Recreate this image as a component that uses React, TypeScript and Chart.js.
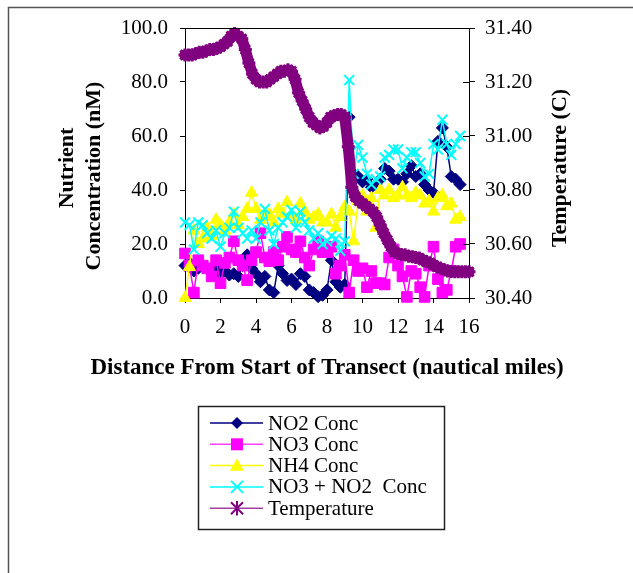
import React, { useEffect, useRef } from 'react';
import { Chart, registerables } from 'chart.js';

Chart.register(...registerables);

// ---------- data ----------
const distance = [0, 0.25, 0.5, 0.75, 1, 1.25, 1.5, 1.75, 2, 2.25, 2.5, 2.75, 3, 3.25, 3.5, 3.75, 4, 4.25, 4.5, 4.75, 5, 5.25, 5.5, 5.75, 6, 6.25, 6.5, 6.75, 7, 7.25, 7.5, 7.75, 8, 8.25, 8.5, 8.75, 9, 9.25, 9.5, 9.75, 10, 10.25, 10.5, 10.75, 11, 11.25, 11.5, 11.75, 12, 12.25, 12.5, 12.75, 13, 13.25, 13.5, 13.75, 14, 14.25, 14.5, 14.75, 15, 15.25, 15.5];

const no2Conc = [12, 13, 10, 11, 12, 11, 10, 12, 9, 10, 8.5, 9, 8, 12, 16, 11, 9, 6, 8, 3, 2, 12, 9, 6.5, 7, 5, 9, 8, 3, 2, 0.5, 1, 3, 14, 6, 4, 5, 67, 46, 45, 43, 44, 41, 42, 44, 48, 47, 44, 44, 43, 46, 49, 45, 46, 42, 40, 39, 58, 63, 56, 45, 44, 42];

const no3Conc = [16.5, 12, 2, 14, 12, 11, 8, 14, 5.5, 13, 15, 21, 14, 12, 6.6, 14, 17, 24, 15, 13.6, 17, 14, 19, 22.6, 18, 17, 21, 15, 12, 18, 21, 17, 17, 19, 9, 12, 16, 2, 14, 10, 11, 4, 10, 5.5, 5.5, 5, 15, 18, 12, 8, 0.4, 10, 9, 4, 0.4, 12, 19, 7, 2, 3, 10, 19, 20];

const nh4Conc = [0, 11.5, 25, 20, 22, 26, 23, 29, 27, 25, 28, 31, 27, 30, 33, 39, 33, 29, 30, 31, 28, 33, 31, 35.5, 31, 29, 35, 32, 29, 30, 31, 28, 28, 31, 26, 30, 33.7, 32, 21, 36, 38, 32, 37, 26, 40, 38, 40, 37, 38, 41, 38, 37, 39, 38, 35, 36, 32, 37, 38, 34, 35, 29, 30];

const no3no2Conc = [28, 27, 18, 28, 27, 24, 22, 25, 19, 24, 26, 32, 26, 24, 22, 25, 22, 28, 33, 25, 20, 26, 28, 30, 32.6, 26, 32, 28, 25, 22, 24, 20, 21, 23, 22, 17.5, 21, 80.7, 46, 56.7, 52, 46, 42, 44, 45, 52, 53, 55, 55, 48, 52, 54, 54, 50, 45, 46, 57, 55, 66, 57, 53, 57, 60];

const tempDistance = [0, 0.2, 0.4, 0.6, 0.8, 1, 1.2, 1.4, 1.6, 1.8, 2, 2.2, 2.4, 2.6, 2.8, 3, 3.2, 3.4, 3.6, 3.8, 4, 4.2, 4.4, 4.6, 4.8, 5, 5.2, 5.4, 5.6, 5.8, 6, 6.2, 6.4, 6.6, 6.8, 7, 7.2, 7.4, 7.6, 7.8, 8, 8.2, 8.4, 8.6, 8.8, 9, 9.2, 9.4, 9.6, 9.8, 10, 10.2, 10.4, 10.6, 10.8, 11, 11.2, 11.4, 11.6, 11.8, 12, 12.2, 12.4, 12.6, 12.8, 13, 13.2, 13.4, 13.6, 13.8, 14, 14.2, 14.4, 14.6, 14.8, 15, 15.2, 15.4, 15.6, 15.8, 16];

const temperature = [31.30, 31.30, 31.30, 31.305, 31.31, 31.31, 31.315, 31.32, 31.32, 31.325,
  31.33, 31.34, 31.35, 31.37, 31.38, 31.37, 31.36, 31.32, 31.27, 31.23,
  31.21, 31.20, 31.20, 31.20, 31.21, 31.22, 31.23, 31.24, 31.24, 31.245,
  31.24, 31.21, 31.16, 31.13, 31.10, 31.07, 31.05, 31.04, 31.03, 31.035,
  31.05, 31.07, 31.075, 31.08, 31.08, 31.07, 30.96, 30.81, 30.775, 30.76,
  30.75, 30.74, 30.73, 30.72, 30.70, 30.67, 30.64, 30.615, 30.59, 30.57,
  30.565, 30.56, 30.56, 30.555, 30.553, 30.55, 30.548, 30.54, 30.535, 30.53,
  30.522, 30.515, 30.51, 30.505, 30.50, 30.498, 30.497, 30.497, 30.497, 30.497,
  30.497];

const xTicks = [0, 2, 4, 6, 8, 10, 12, 14, 16];
const nutrientTicks = [0, 20, 40, 60, 80, 100];
const tempTicks = [30.4, 30.6, 30.8, 31.0, 31.2, 31.4];

const xTitle = 'Distance From Start of Transect (nautical miles)';
const yTitleLines = ['Nutrient', 'Concentration (nM)'];
const y1Title = 'Temperature (C)';

const FONT = '"Liberation Serif", "Times New Roman", serif';

type Marker = 'rectRot' | 'rect' | 'triangle' | 'crossRot' | 'star';

function drawMarker(ctx: CanvasRenderingContext2D, kind: Marker, x: number, y: number, r: number, color: string) {
  ctx.save();
  ctx.fillStyle = color;
  ctx.strokeStyle = color;
  ctx.beginPath();
  if (kind === 'rectRot') {
    ctx.moveTo(x, y - r); ctx.lineTo(x + r, y); ctx.lineTo(x, y + r); ctx.lineTo(x - r, y); ctx.closePath(); ctx.fill();
  } else if (kind === 'rect') {
    ctx.rect(x - r, y - r, 2 * r, 2 * r); ctx.fill();
  } else if (kind === 'triangle') {
    ctx.moveTo(x, y - r); ctx.lineTo(x + r, y + r * 0.75); ctx.lineTo(x - r, y + r * 0.75); ctx.closePath(); ctx.fill();
  } else if (kind === 'crossRot') {
    ctx.lineWidth = 2;
    ctx.moveTo(x - r, y - r); ctx.lineTo(x + r, y + r); ctx.moveTo(x + r, y - r); ctx.lineTo(x - r, y + r); ctx.stroke();
  } else {
    ctx.lineWidth = 2;
    ctx.moveTo(x - r, y - r); ctx.lineTo(x + r, y + r); ctx.moveTo(x + r, y - r); ctx.lineTo(x - r, y + r);
    ctx.moveTo(x, y - r * 1.2); ctx.lineTo(x, y + r * 1.2); ctx.stroke();
  }
  ctx.restore();
}

const legendItems: { label: string; color: string; line: string; marker: Marker; r: number }[] = [
  { label: 'NO2 Conc', color: '#000080', line: '#000080', marker: 'rectRot', r: 6 },
  { label: 'NO3 Conc', color: '#FF00FF', line: '#FF40FF', marker: 'rect', r: 6 },
  { label: 'NH4 Conc', color: '#FFFF00', line: '#FFFF00', marker: 'triangle', r: 7 },
  { label: 'NO3 + NO2  Conc', color: '#00FFFF', line: '#00FFFF', marker: 'crossRot', r: 6 },
  { label: 'Temperature', color: '#800080', line: '#A040A0', marker: 'star', r: 6 },
];

const decorPlugin = {
  id: 'decor',
  beforeDraw(chart: any) {
    const ctx = chart.ctx as CanvasRenderingContext2D;
    ctx.save();
    ctx.fillStyle = '#fff';
    ctx.fillRect(0, 0, chart.width, chart.height);
    ctx.strokeStyle = '#555';
    ctx.lineWidth = 1.5;
    ctx.strokeRect(8.5, 7.5, 800, 800);
    ctx.restore();
  },
  afterDraw(chart: any) {
    const ctx = chart.ctx as CanvasRenderingContext2D;
    const a = chart.chartArea;
    ctx.save();
    ctx.strokeStyle = '#000';
    ctx.lineWidth = 1;
    ctx.beginPath();
    ctx.moveTo(a.left, a.top + 0.5);
    ctx.lineTo(a.right, a.top + 0.5);
    // right-axis ticks crossing into the plot
    const y1 = chart.scales.y1;
    tempTicks.forEach((v) => {
      const py = Math.round(y1.getPixelForValue(v)) + 0.5;
      ctx.moveTo(a.right - 6, py);
      ctx.lineTo(a.right, py);
    });
    ctx.stroke();

    ctx.fillStyle = '#000';
    ctx.textAlign = 'center';
    ctx.textBaseline = 'middle';
    ctx.font = `bold 23px ${FONT}`;
    ctx.fillText(xTitle, 327, 368);

    ctx.font = `bold 22px ${FONT}`;
    const ys = [[67, 168], [94, 176]];
    yTitleLines.forEach((t, i) => {
      ctx.save();
      ctx.translate(ys[i][0], ys[i][1]);
      ctx.rotate(-Math.PI / 2);
      ctx.fillText(t, 0, 0);
      ctx.restore();
    });
    ctx.save();
    ctx.translate(560, 168);
    ctx.rotate(-Math.PI / 2);
    ctx.fillText(y1Title, 0, 0);
    ctx.restore();

    // legend
    ctx.strokeStyle = '#222';
    ctx.lineWidth = 1.5;
    ctx.strokeRect(198.5, 406.5, 246, 123);
    ctx.font = `21px ${FONT}`;
    ctx.textAlign = 'left';
    legendItems.forEach((it, i) => {
      const y = 423 + i * 21.3;
      ctx.strokeStyle = it.line;
      ctx.lineWidth = 1.5;
      ctx.beginPath();
      ctx.moveTo(210, y);
      ctx.lineTo(263, y);
      ctx.stroke();
      drawMarker(ctx, it.marker, 237, y, it.r, it.color);
      ctx.fillStyle = '#000';
      ctx.fillText(it.label, 268, y + 1);
    });
    ctx.restore();
  },
};

function pts(xs: number[], ys: number[]) {
  return xs.map((x, i) => ({ x, y: ys[i] }));
}

export default function App() {
  const ref = useRef<HTMLCanvasElement | null>(null);

  useEffect(() => {
    document.body.style.margin = '0';
    const canvas = ref.current!;
    const tickFont = { family: FONT, size: 21 };
    const grid = { display: true, drawOnChartArea: false, drawTicks: true, tickLength: 5, color: '#000', lineWidth: 1 };
    const chart = new Chart(canvas, {
      type: 'line',
      data: {
        datasets: [
          {
            label: 'NO2 Conc', data: pts(distance, no2Conc), yAxisID: 'y', order: 5,
            borderColor: '#000080', borderWidth: 1.5, pointStyle: 'rectRot', pointRadius: 6,
            pointBackgroundColor: '#000080', pointBorderColor: '#000080', pointBorderWidth: 1, clip: false,
          },
          {
            label: 'NO3 Conc', data: pts(distance, no3Conc), yAxisID: 'y', order: 4,
            borderColor: '#FF00FF', borderWidth: 1.5, pointStyle: 'rect', pointRadius: 7.5,
            pointBackgroundColor: '#FF00FF', pointBorderColor: '#FF00FF', pointBorderWidth: 1, clip: false,
          },
          {
            label: 'NH4 Conc', data: pts(distance, nh4Conc), yAxisID: 'y', order: 3,
            borderColor: '#FFFF00', borderWidth: 1.5, pointStyle: 'triangle', pointRadius: 7,
            pointBackgroundColor: '#FFFF00', pointBorderColor: '#FFFF00', pointBorderWidth: 1, clip: false,
          },
          {
            label: 'NO3 + NO2  Conc', data: pts(distance, no3no2Conc), yAxisID: 'y', order: 2,
            borderColor: '#00FFFF', borderWidth: 1.5, pointStyle: 'crossRot', pointRadius: 7,
            pointBackgroundColor: '#00FFFF', pointBorderColor: '#00FFFF', pointBorderWidth: 2, clip: false,
          },
          {
            label: 'Temperature', data: pts(tempDistance, temperature), yAxisID: 'y1', order: 1,
            borderColor: '#800080', borderWidth: 11, pointStyle: 'star', pointRadius: 6.5,
            pointBackgroundColor: '#800080', pointBorderColor: '#800080', pointBorderWidth: 3, clip: false,
          },
        ] as any,
      },
      options: {
        animation: false,
        responsive: false,
        devicePixelRatio: 1,
        layout: { padding: { left: 0, right: 0, top: 28, bottom: 0 } },
        plugins: { legend: { display: false }, tooltip: { enabled: false }, title: { display: false } },
        elements: { line: { tension: 0, borderJoinStyle: 'round', borderCapStyle: 'round' } },
        scales: {
          x: {
            type: 'linear', min: 0, max: 16,
            afterBuildTicks: (s: any) => { s.ticks = xTicks.map((v) => ({ value: v })); },
            afterFit: (s: any) => { s.height = 573 - 298; },
            ticks: { font: tickFont, color: '#000', padding: 12, maxRotation: 0, autoSkip: false, callback: (v: any) => String(v) },
            grid,
            border: { display: true, color: '#000', width: 1 },
          },
          y: {
            type: 'linear', position: 'left', min: 0, max: 100,
            afterBuildTicks: (s: any) => { s.ticks = nutrientTicks.map((v) => ({ value: v })); },
            afterFit: (s: any) => { s.width = 185; },
            ticks: { font: tickFont, color: '#000', padding: 12, callback: (v: any) => Number(v).toFixed(1) },
            grid,
            border: { display: true, color: '#000', width: 1 },
          },
          y1: {
            type: 'linear', position: 'right', min: 30.4, max: 31.4,
            afterBuildTicks: (s: any) => { s.ticks = tempTicks.map((v) => ({ value: v })); },
            afterFit: (s: any) => { s.width = 633 - 469; },
            ticks: { font: tickFont, color: '#000', padding: 10, callback: (v: any) => Number(v).toFixed(2) },
            grid: { ...grid, tickLength: 6 },
            border: { display: true, color: '#000', width: 1 },
          },
        },
      } as any,
      plugins: [decorPlugin],
    });
    return () => chart.destroy();
  }, []);

  return (
    <canvas ref={ref} width={633} height={573} style={{ display: 'block', width: 633, height: 573 }} />
  );
}
